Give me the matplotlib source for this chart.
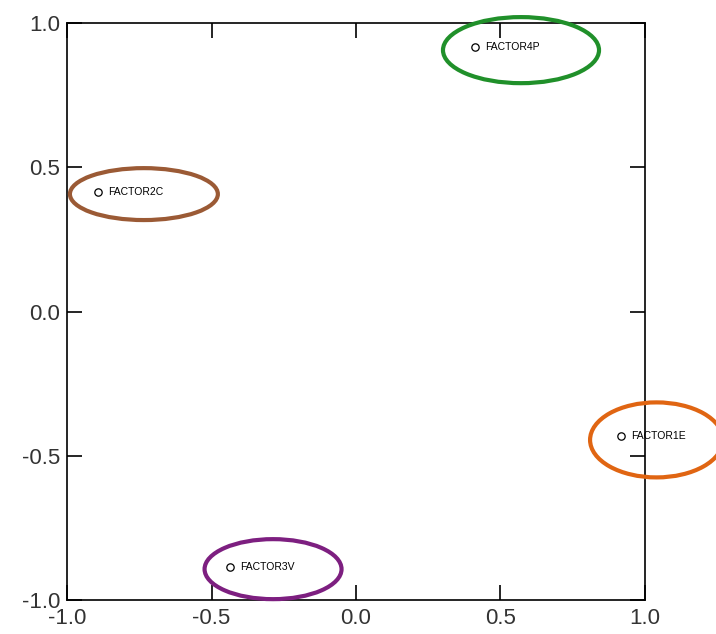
import numpy as np
import matplotlib
matplotlib.use("Agg")
import matplotlib.pyplot as plt
from matplotlib.patches import Ellipse

# factor loadings (x, y)
labels = ["FACTOR1E", "FACTOR2C", "FACTOR3V", "FACTOR4P"]
x_vals = [0.917, -0.893, -0.436, 0.412]
y_vals = [-0.431, 0.414, -0.886, 0.917]

# highlight ellipses: center x, center y, width, height (data units)
ell_cx = [1.040, -0.734, -0.287, 0.571]
ell_cy = [-0.445, 0.407, -0.893, 0.906]
ell_w = [0.46, 0.512, 0.474, 0.54]
ell_h = [0.26, 0.180, 0.208, 0.229]
ell_colors = ["#e06512", "#9b5a35", "#7d1f80", "#20902a"]

ticks = [-1.0, -0.5, 0.0, 0.5, 1.0]


def main():
    fig = plt.figure(figsize=(7.16, 6.34), dpi=100)
    ax = fig.add_axes([0.0936, 0.0536, 0.8072, 0.9101])

    ax.scatter(x_vals, y_vals, s=28, facecolors="white", edgecolors="black",
               linewidths=0.9, zorder=3, clip_on=False)
    for xv, yv, lab in zip(x_vals, y_vals, labels):
        ax.annotate(lab, (xv, yv), xytext=(7, 0), textcoords="offset points",
                    fontsize=7.5, va="center", ha="left", color="black",
                    family="Liberation Sans")

    for cx, cy, w, h, c in zip(ell_cx, ell_cy, ell_w, ell_h, ell_colors):
        e = Ellipse((cx, cy), w, h, fill=False, edgecolor=c, linewidth=3,
                    clip_on=False, zorder=4)
        ax.add_patch(e)

    ax.set_xlim(-1, 1)
    ax.set_ylim(-1, 1)
    ax.set_xticks(ticks)
    ax.set_yticks(ticks)
    ax.set_xticklabels([f"{t:.1f}" for t in ticks])
    ax.set_yticklabels([f"{t:.1f}" for t in ticks])
    ax.tick_params(direction="in", length=11, width=1.2, top=True, right=True,
                   labelsize=16, labelcolor="#333333")
    ax.tick_params(axis="x", pad=6)
    ax.tick_params(axis="y", pad=5)
    for lbl in ax.get_xticklabels() + ax.get_yticklabels():
        lbl.set_family("Liberation Sans")
    for sp in ax.spines.values():
        sp.set_linewidth(1.2)

    fig.savefig("out.png", dpi=100)


if __name__ == "__main__":
    main()
